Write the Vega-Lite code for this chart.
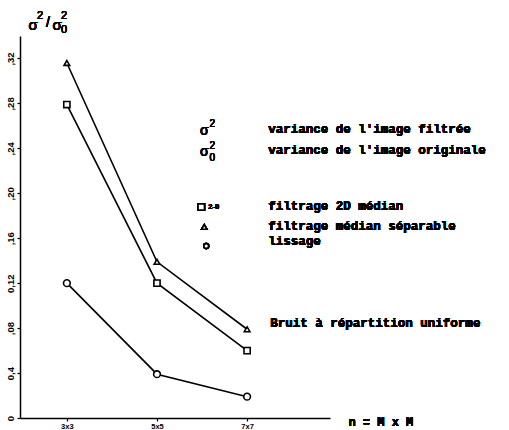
{
  "$schema": "https://vega.github.io/schema/vega-lite/v6.json",
  "autosize": {"type": "none"},
  "width": 310,
  "height": 382,
  "padding": {"left": 20, "top": 36, "right": 179, "bottom": 12},
  "background": "white",
  "config": {
    "view": {"stroke": null},
    "text": {"font": "Liberation Mono", "fontWeight": "bold", "fontSize": 12.5, "color": "black", "align": "left", "baseline": "middle"}
  },
  "data": {
    "values": [
      {"n": 3, "series": "separable", "v": 0.316},
      {"n": 5, "series": "separable", "v": 0.139},
      {"n": 7, "series": "separable", "v": 0.079},
      {"n": 3, "series": "median2D", "v": 0.279},
      {"n": 5, "series": "median2D", "v": 0.120},
      {"n": 7, "series": "median2D", "v": 0.060},
      {"n": 3, "series": "lissage", "v": 0.120},
      {"n": 5, "series": "lissage", "v": 0.039},
      {"n": 7, "series": "lissage", "v": 0.019}
    ]
  },
  "encoding": {
    "x": {
      "field": "n", "type": "quantitative",
      "scale": {"domain": [1.96, 8.84], "nice": false, "zero": false},
      "axis": {
        "values": [3, 5, 7], "title": null, "grid": false,
        "labelExpr": "datum.value + 'x' + datum.value",
        "labelFont": "Liberation Sans", "labelFontWeight": "bold", "labelFontSize": 7.5, "labelColor": "black",
        "labelPadding": 1,
        "domainColor": "black", "domainWidth": 1.5, "tickColor": "black", "tickSize": 3, "tickWidth": 1.2
      }
    },
    "y": {
      "field": "v", "type": "quantitative",
      "scale": {"domain": [0, 0.34], "nice": false},
      "axis": {
        "values": [0, 0.04, 0.08, 0.12, 0.16, 0.2, 0.24, 0.28, 0.32], "title": null, "grid": false,
        "labelExpr": "datum.value == 0 ? '0' : (datum.value < 0.05 ? '0,4' : (datum.value > 0.11 && datum.value < 0.13 ? '0,12' : replace(format(datum.value, '.2f'), '0.', ',')))",
        "labelAngle": 270, "labelAlign": "center", "labelBaseline": "bottom",
        "labelFont": "Liberation Sans", "labelFontWeight": "bold", "labelFontSize": 9.5, "labelColor": "black",
        "labelPadding": 2,
        "domainColor": "black", "domainWidth": 1.5, "tickColor": "black", "tickSize": 3, "tickWidth": 1.2
      }
    }
  },
  "layer": [
    {
      "mark": {"type": "line", "color": "black", "strokeWidth": 1.6},
      "encoding": {"detail": {"field": "series"}}
    },
    {
      "mark": {"type": "point", "filled": false, "fill": "white", "fillOpacity": 1, "stroke": "black", "strokeWidth": 1.6, "opacity": 1},
      "encoding": {
        "shape": {
          "field": "series", "type": "nominal",
          "scale": {"domain": ["separable", "median2D", "lissage"], "range": ["triangle-up", "square", "circle"]},
          "legend": null
        },
        "size": {
          "field": "series", "type": "nominal",
          "scale": {"domain": ["separable", "median2D", "lissage"], "range": [32, 45, 28]},
          "legend": null
        }
      }
    },
    {"mark": {"type": "text", "text": "σ", "font": "Liberation Sans", "fontSize": 15, "fontWeight": "normal", "align": "center"}, "encoding": {"x": {"datum": 2.249}, "y": {"datum": 0.3498}}},
    {"mark": {"type": "text", "text": "2", "font": "Liberation Sans", "fontSize": 11, "fontWeight": "normal", "align": "center"}, "encoding": {"x": {"datum": 2.404}, "y": {"datum": 0.3578}}},
    {"mark": {"type": "text", "text": "/", "font": "Liberation Sans", "fontSize": 14, "fontWeight": "normal", "align": "center"}, "encoding": {"x": {"datum": 2.582}, "y": {"datum": 0.3516}}},
    {"mark": {"type": "text", "text": "σ", "font": "Liberation Sans", "fontSize": 15, "fontWeight": "normal", "align": "center"}, "encoding": {"x": {"datum": 2.782}, "y": {"datum": 0.3498}}},
    {"mark": {"type": "text", "text": "2", "font": "Liberation Sans", "fontSize": 11, "fontWeight": "normal", "align": "center"}, "encoding": {"x": {"datum": 2.938}, "y": {"datum": 0.3578}}},
    {"mark": {"type": "text", "text": "0", "font": "Liberation Sans", "fontSize": 11, "fontWeight": "normal", "align": "center"}, "encoding": {"x": {"datum": 2.938}, "y": {"datum": 0.3453}}},

    {"mark": {"type": "text", "text": "σ", "font": "Liberation Sans", "fontSize": 14, "fontWeight": "normal", "align": "center"}, "encoding": {"x": {"datum": 6.049}, "y": {"datum": 0.2555}}},
    {"mark": {"type": "text", "text": "2", "font": "Liberation Sans", "fontSize": 10, "fontWeight": "normal", "align": "center"}, "encoding": {"x": {"datum": 6.227}, "y": {"datum": 0.2617}}},
    {"mark": {"type": "text", "text": "variance de l'image filtrée"}, "encoding": {"x": {"datum": 7.471}, "y": {"datum": 0.2572}}},
    {"mark": {"type": "text", "text": "σ", "font": "Liberation Sans", "fontSize": 14, "fontWeight": "normal", "align": "center"}, "encoding": {"x": {"datum": 6.049}, "y": {"datum": 0.2368}}},
    {"mark": {"type": "text", "text": "2", "font": "Liberation Sans", "fontSize": 10, "fontWeight": "normal", "align": "center"}, "encoding": {"x": {"datum": 6.227}, "y": {"datum": 0.2421}}},
    {"mark": {"type": "text", "text": "0", "font": "Liberation Sans", "fontSize": 10, "fontWeight": "normal", "align": "center"}, "encoding": {"x": {"datum": 6.227}, "y": {"datum": 0.2314}}},
    {"mark": {"type": "text", "text": "variance de l'image originale"}, "encoding": {"x": {"datum": 7.471}, "y": {"datum": 0.2385}}},

    {"mark": {"type": "point", "shape": "square", "size": 40, "fill": "white", "stroke": "black", "strokeWidth": 1.6, "opacity": 1}, "encoding": {"x": {"datum": 5.982}, "y": {"datum": 0.1878}}},
    {"mark": {"type": "text", "text": "2-0", "font": "Liberation Sans", "fontSize": 7.5}, "encoding": {"x": {"datum": 6.138}, "y": {"datum": 0.1878}}},
    {"mark": {"type": "text", "text": "filtrage 2D médian"}, "encoding": {"x": {"datum": 7.471}, "y": {"datum": 0.1887}}},

    {"mark": {"type": "point", "shape": "triangle-up", "size": 26, "fill": "white", "stroke": "black", "strokeWidth": 1.6, "opacity": 1}, "encoding": {"x": {"datum": 6.049}, "y": {"datum": 0.1700}}},
    {"mark": {"type": "text", "text": "filtrage médian séparable"}, "encoding": {"x": {"datum": 7.471}, "y": {"datum": 0.1709}}},

    {"mark": {"type": "point", "shape": "circle", "size": 22, "fill": "white", "stroke": "black", "strokeWidth": 1.6, "opacity": 1}, "encoding": {"x": {"datum": 6.093}, "y": {"datum": 0.1531}}},
    {"mark": {"type": "text", "text": "lissage"}, "encoding": {"x": {"datum": 7.471}, "y": {"datum": 0.1575}}},

    {"mark": {"type": "text", "text": "Bruit à répartition uniforme"}, "encoding": {"x": {"datum": 7.516}, "y": {"datum": 0.0846}}},
    {"mark": {"type": "text", "text": "n = M x M", "fontSize": 12}, "encoding": {"x": {"datum": 9.249}, "y": {"datum": -0.0036}}}
  ]
}
